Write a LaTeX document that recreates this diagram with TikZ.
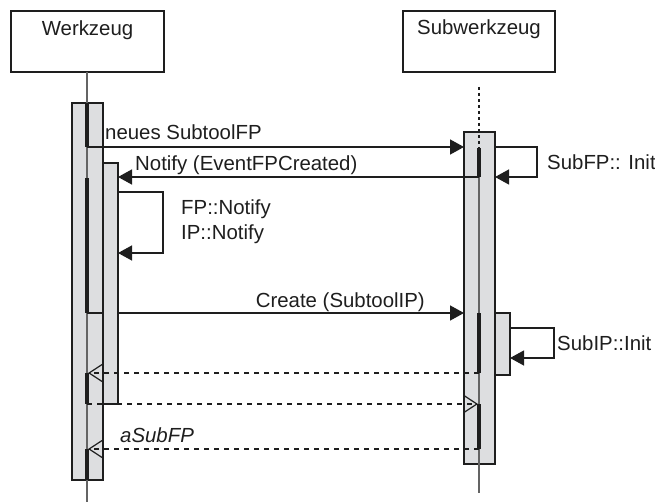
\documentclass[tikz,border=0pt]{standalone}
\usepackage{fontspec}
\setmainfont{Liberation Sans}
\usetikzlibrary{arrows.meta}

\definecolor{barfill}{RGB}{221,222,224}
\definecolor{lifegray}{RGB}{100,100,100}
\definecolor{ink}{RGB}{30,30,30}

\begin{document}
\begin{tikzpicture}[x=1pt,y=-1pt,
  font=\fontsize{20.4}{24}\selectfont,
  objbox/.style={draw=ink, line width=1.6pt, fill=white},
  actbar/.style={draw=ink, line width=1.6pt, fill=barfill},
  focus/.style={fill=ink, draw=none},
  lifeline/.style={draw=lifegray, line width=1.3pt},
  dotline/.style={draw=ink, line width=2pt, dash pattern=on 2.6pt off 3.4pt},
  msg/.style={draw=ink, line width=1.5pt, -{Triangle[length=14pt,width=15pt]}},
  selfmsg/.style={draw=ink, line width=1.3pt, -{Triangle[length=14pt,width=15pt]}},
  reply/.style={draw=ink, line width=1.8pt, dash pattern=on 5pt off 5pt,
    -{Straight Barb[length=13pt,width=17pt,line width=1.2pt]}},
  lbl/.style={inner sep=0pt, anchor=base west, text=ink},
]
\useasboundingbox (0,0) rectangle (655,502);

% object heads
\draw[objbox] (11,11) rectangle (164,72);
\node[lbl, anchor=base] (werkname) at (87.5,36) {Werkzeug};
\draw[objbox] (403,11) rectangle (555,72);
\node[lbl, anchor=base] (subname) at (479,35) {Subwerkzeug};

% activation bars
\draw[actbar] (72,103) rectangle (103,480);
\draw[actbar] (464,132) rectangle (495,464);

% lifelines
\coordinate (wtop) at (87,72);
\coordinate (wbot) at (87,502);
\draw[lifeline] (wtop) -- (wbot);
\coordinate (stop) at (479,87);
\coordinate (smid) at (479,148);
\coordinate (sact) at (479,177);
\coordinate (sbot) at (479,493);
\draw[dotline] (stop) -- (smid);
\draw[lifeline] (sact) -- (sbot);

% focus of control (thick bars)
\fill[focus] (85,103) rectangle (89,147);
\fill[focus] (85,178) rectangle (89,313);
\fill[focus] (85,373) rectangle (89,404);
\fill[focus] (85,449) rectangle (89,480);
\fill[focus] (477,148) rectangle (481,177);
\fill[focus] (477,313) rectangle (481,373);
\fill[focus] (477,404) rectangle (481,449);

% synchronous messages
\coordinate (m1a) at (87,147);
\coordinate (m1b) at (464,147);
\draw[msg] (m1a) -- (m1b);
\node[lbl] (m1lbl) at (105,140) {neues SubtoolFP};

\coordinate (m2a) at (479,177);
\coordinate (m2b) at (118,177);
\draw[msg] (m2a) -- (m2b);
\node[lbl] (m2lbl) at (135,171) {Notify (EventFPCreated)};

\coordinate (m5a) at (87,313);
\coordinate (m5b) at (464,313);
\draw[msg] (m5a) -- (m5b);
\node[lbl, anchor=base east] (m5lbl) at (425,307) {Create (SubtoolIP)};

% nested activations
\draw[actbar] (103,163) rectangle (118,404);
\draw[actbar] (495,313) rectangle (510,375);

% self calls
\coordinate (s1a) at (495,147);
\coordinate (s1b) at (495,177);
\draw[selfmsg] (s1a) -- (537,147) -- (537,177) -- (s1b);
\node[lbl] (s1lbl) at (547,170) {SubFP:: Init};

\coordinate (s2a) at (118,192);
\coordinate (s2b) at (118,253);
\draw[selfmsg] (s2a) -- (163,192) -- (163,253) -- (s2b);
\node[lbl] (s2lbl) at (181,215) {FP::Notify};
\node[lbl] (s2lblb) at (181,240) {IP::Notify};

\coordinate (s3a) at (510,328);
\coordinate (s3b) at (510,358);
\draw[selfmsg] (s3a) -- (554,328) -- (554,358) -- (s3b);
\node[lbl] (s3lbl) at (557,350) {SubIP::Init};

% returns
\coordinate (r1a) at (479,373);
\coordinate (r1b) at (88,373);
\draw[reply] (r1a) -- (r1b);
\coordinate (r2a) at (87,404);
\coordinate (r2b) at (478,404);
\draw[reply] (r2a) -- (r2b);
\coordinate (r3a) at (479,449);
\coordinate (r3b) at (88,449);
\draw[reply] (r3a) -- (r3b);
\node[lbl] (r3lbl) at (120,442) {\itshape aSubFP};
\end{tikzpicture}
\end{document}
